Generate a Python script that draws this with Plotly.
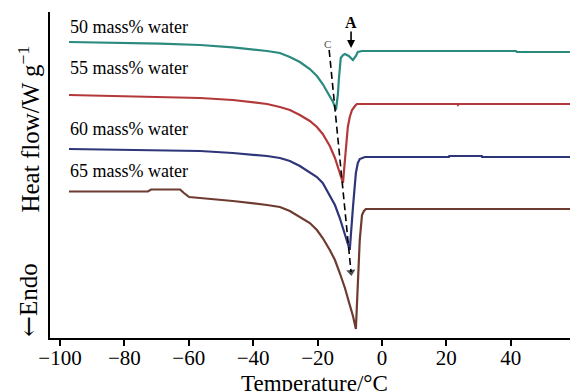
import plotly.graph_objects as go

# ---- data (temperature in °C, heat flow in arbitrary offset units) ----
t50 = [-97.2, -81.4, -68.9, -56.5, -46.3, -35.7, -31.7, -28.6, -25.5, -22.4, -20.2, -18.4,
       -16.8, -15.2, -14.3, -13.7, -13.4, -13.1, -12.8, -12.1, -11.5, -10.3, -9.0, -8.1,
       -7.5, -6.2, 41.6, 41.9, 58.4]
hf50 = [296, 295.3, 294.3, 293, 290.7, 287, 285, 281, 276, 269, 262, 254,
        245, 236, 228, 243, 258, 273, 280, 283, 284, 282, 278, 282,
        286, 287, 287, 286, 286]

t55 = [-97.2, -81.4, -68.9, -56.5, -46.3, -35.7, -31.7, -28.6, -25.5, -22.4, -20.2, -18.4,
       -16.2, -14.6, -13.4, -12.1, -11.5, -11.2, -10.6, -10.0, -9.3, -8.4, -7.8,
       23.4, 23.6, 23.9, 58.4]
hf55 = [243, 242, 241.5, 240, 238, 234, 231, 228, 223, 217, 211, 204,
        192, 180, 168, 155, 178, 191, 211, 221, 228, 232, 234,
        234, 233, 234, 234]

t60 = [-97.2, -81.4, -68.9, -56.5, -46.3, -35.7, -31.7, -28.6, -25.5, -22.4, -20.2, -18.4,
       -16.2, -14.6, -13.1, -11.5, -10.6, -10.0, -9.0, -8.1, -7.5, -6.9, -5.3,
       20.8, 20.9, 31.0, 31.1, 58.4]
hf60 = [189, 188.5, 188, 187, 185, 182, 180, 177, 172, 166, 161, 155,
        143, 133, 120, 104, 95, 88, 131, 165, 175, 179, 181,
        181, 182, 182, 181, 181]

t65 = [-97.2, -72.7, -71.7, -62.7, -61.5, -59.9, -56.5, -46.3, -35.7, -31.7, -28.6, -25.5,
       -22.4, -20.2, -18.4, -16.2, -14.6, -13.1, -11.5, -10.0, -9.0, -8.1, -7.8,
       -7.5, -6.9, -6.2, -5.6, -5.0, 58.4]
hf65 = [146.5, 146.5, 148.5, 148.5, 145, 141, 140, 137, 133, 131, 127, 121,
        115, 108, 100, 88, 78, 65, 50, 33, 22, 9, 28,
        48, 98, 123, 127, 129, 129]

series = [
    ("50 mass% water", t50, hf50, "#2a8a7e"),
    ("55 mass% water", t55, hf55, "#b3383a"),
    ("60 mass% water", t60, hf60, "#2e3578"),
    ("65 mass% water", t65, hf65, "#6e3b30"),
]
label_y = [311, 270, 209, 167]

# dashed guide line C (through the peak minima)
c_t = [-16.4, -9.6]
c_hf = [288, 66]

x_ticks = [-100, -80, -60, -40, -20, 0, 20, 40]

SERIF = "Liberation Serif, Times New Roman, serif"

fig = go.Figure()
for name, t, hf, col in series:
    fig.add_trace(go.Scatter(x=t, y=hf, mode="lines", name=name,
                             line=dict(color=col, width=2.2), showlegend=False))

fig.add_trace(go.Scatter(x=c_t, y=c_hf, mode="lines+markers", showlegend=False,
                         line=dict(color="black", width=1.6, dash="7px,4px"),
                         marker=dict(symbol=["circle", "triangle-up"], size=[0, 8],
                                     angleref="previous", color="black",
                                     line=dict(width=0))))

for (name, t, hf, col), ly in zip(series, label_y):
    fig.add_annotation(x=-97.5, y=ly, xref="x", yref="y", text=name, showarrow=False,
                       xanchor="left", yanchor="middle",
                       font=dict(family=SERIF, size=18, color="black"))

# label C
fig.add_annotation(x=-16.8, y=294, xref="x", yref="y", text="C", showarrow=False,
                   font=dict(family=SERIF, size=11, color="#555555"))
# label A with arrow
fig.add_annotation(x=-9.6, y=316, xref="x", yref="y", text="<b>A</b>", showarrow=False,
                   font=dict(family=SERIF, size=16, color="black"))
fig.add_annotation(x=-9.6, y=290, ax=-9.6, ay=308, xref="x", yref="y",
                   axref="x", ayref="y", text="", showarrow=True,
                   arrowhead=2, arrowsize=1, arrowwidth=1.6, arrowcolor="black")

# axis titles
fig.add_annotation(x=-21.1, y=-0.14, xref="x", yref="paper", text="Temperature/°C",
                   showarrow=False, xanchor="center", yanchor="middle",
                   font=dict(family=SERIF, size=23, color="black"))
fig.add_annotation(x=-0.04, y=0.64, xref="paper", yref="paper",
                   text="Heat flow/W g<sup>−1</sup>", textangle=-90, showarrow=False,
                   xanchor="center", yanchor="middle",
                   font=dict(family=SERIF, size=25, color="black"))
fig.add_annotation(x=-0.04, y=0.117, xref="paper", yref="paper",
                   text="<span style='font-family:DejaVu Serif'>←</span>Endo",
                   textangle=-90, showarrow=False,
                   xanchor="center", yanchor="middle",
                   font=dict(family=SERIF, size=25, color="black"))

fig.update_xaxes(range=[-103.1, 58.4], tickvals=x_ticks, ticks="outside", ticklen=6,
                 tickwidth=2, tickcolor="black", showline=True, linewidth=2,
                 linecolor="black", showgrid=False, zeroline=False,
                 ticklabelstandoff=-6,
                 tickfont=dict(family=SERIF, size=21, color="black"))
fig.update_yaxes(range=[0, 326], showline=True, linewidth=2, linecolor="black",
                 showticklabels=False, ticks="", showgrid=False, zeroline=False)

fig.update_layout(width=570, height=391, margin=dict(l=50, r=0, t=12, b=53),
                  paper_bgcolor="white", plot_bgcolor="white")

fig.write_html("out.html")
